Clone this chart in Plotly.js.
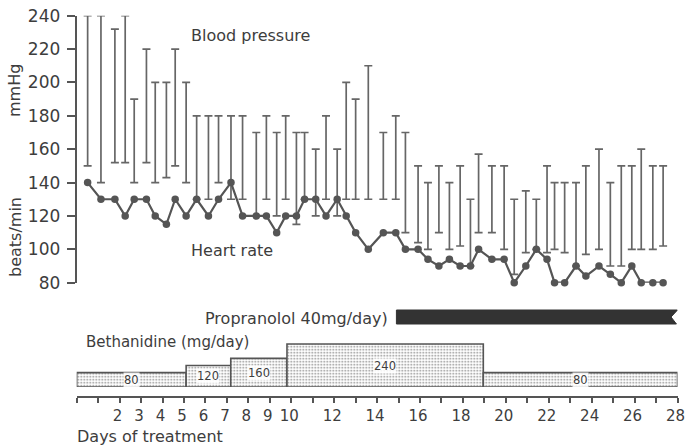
<!DOCTYPE html>
<html>
<head>
<meta charset="utf-8">
<script src="https://cdn.plot.ly/plotly-3.0.1.min.js"></script>
<style>html,body{margin:0;padding:0;background:#fff;}#chart{width:685px;height:445px;}</style>
</head>
<body>
<div id="chart"></div>
<script>
// Measurement times (days of treatment)
const days = [0.51,1.13,1.78,2.26,2.68,3.25,3.66,4.18,4.59,5.10,
  5.59,6.14,6.61,7.19,7.73,8.37,8.84,9.32,9.74,10.24,
  10.62,11.14,11.62,12.14,12.56,13.00,13.59,14.29,14.87,15.32,
  15.91,16.37,16.88,17.37,17.87,18.35,18.73,19.35,19.92,20.39,
  20.93,21.42,21.92,22.27,22.74,23.27,23.73,24.34,24.87,25.38,
  25.87,26.31,26.85,27.33];
// Blood pressure (mmHg)
const systolic = [240,240,232,240,190,220,200,200,220,200,
  180,180,180,180,180,170,180,170,180,170,
  170,160,180,160,200,190,210,170,180,170,
  150,140,150,140,150,130,157,150,150,130,
  135,130,150,140,140,140,150,160,140,150,
  150,160,150,150];
const diastolic = [150,140,152,152,140,152,140,143,150,140,
  130,130,140,130,130,120,130,120,130,115,
  130,120,130,120,130,130,130,130,130,110,
  104,100,110,100,102,90,110,110,100,85,
  98,100,98,100,98,90,97,100,90,90,
  100,100,100,102];
// Heart rate (beats/min)
const heartRate = [140,130,130,120,130,130,120,115,130,120,
  130,120,130,140,120,120,120,110,120,120,
  130,130,120,130,120,110,100,110,110,100,
  100,94,90,94,90,90,100,94,94,80,
  90,100,94,80,80,90,84,90,85,80,
  90,80,80,80];
// Bethanidine dosing periods
const doseStart = [0, 5.1, 7.18, 9.8, 18.95];
const doseEnd = [5.1, 7.18, 9.8, 18.95, 28];
const doseMg = [80, 120, 160, 240, 80];
// Propranolol period
const propStart = [14.9];
const propEnd = [28];
// Axis ticks
const yTicks = [80,100,120,140,160,180,200,220,240];
const xTickVals = Array.from({length: 29}, (_, i) => i);
const xTickLabels = ['', '', '2','3','4','5','6','7','8','9','10','','12','','14','','16','','18','','20','','22','','24','','26','','28'];

const INK = '#555555';
const TXT = '#3d3d3d';
const FONT = '"DejaVu Sans", sans-serif';

const bpTrace = {
  type: 'scatter', mode: 'markers', x: days, y: diastolic,
  xaxis: 'x', yaxis: 'y',
  marker: {color: 'rgba(0,0,0,0)', size: 1},
  error_y: {type: 'data', symmetric: false,
    array: systolic.map((s, i) => s - diastolic[i]),
    arrayminus: diastolic.map(() => 0),
    width: 4, thickness: 1.7, color: '#666666'},
  hoverinfo: 'skip', cliponaxis: false
};
const hrTrace = {
  type: 'scatter', mode: 'lines+markers', x: days, y: heartRate,
  xaxis: 'x', yaxis: 'y',
  line: {color: INK, width: 2.2},
  marker: {color: INK, size: 7.5},
  cliponaxis: false
};
const doseTrace = {
  type: 'bar', x: doseStart.map((s, i) => (s + doseEnd[i]) / 2),
  width: doseStart.map((s, i) => doseEnd[i] - s),
  y: doseMg, xaxis: 'x', yaxis: 'y2',
  marker: {color: '#ffffff', line: {color: INK, width: 1.6},
    pattern: {shape: '.', fgcolor: '#808080', bgcolor: '#ffffff', size: 3, solidity: 0.25}},
  hoverinfo: 'skip'
};

const px = (p) => p / 685;
const py = (p) => 1 - p / 445;

const annotations = [
  {text: 'Blood pressure', xref: 'paper', yref: 'paper', x: px(189), y: py(36), xanchor: 'left', yanchor: 'middle', showarrow: false, font: {size: 16, color: TXT, family: FONT}},
  {text: 'Heart rate', xref: 'paper', yref: 'paper', x: px(189), y: py(250), xanchor: 'left', yanchor: 'middle', showarrow: false, font: {size: 16, color: TXT, family: FONT}},
  {text: 'mmHg', xref: 'paper', yref: 'paper', x: px(14), y: py(91), textangle: -90, xanchor: 'center', yanchor: 'middle', showarrow: false, font: {size: 16, color: TXT, family: FONT}},
  {text: 'beats/min', xref: 'paper', yref: 'paper', x: px(15), y: py(237), textangle: -90, xanchor: 'center', yanchor: 'middle', showarrow: false, font: {size: 16, color: TXT, family: FONT}},
  {text: 'Propranolol 40mg/day)', xref: 'paper', yref: 'paper', x: px(390), y: py(318), xanchor: 'right', yanchor: 'middle', showarrow: false, font: {size: 16, color: TXT, family: FONT}},
  {text: 'Bethanidine (mg/day)', xref: 'paper', yref: 'paper', x: px(84), y: py(342), xanchor: 'left', yanchor: 'middle', showarrow: false, font: {size: 15, color: TXT, family: FONT}},
  {text: 'Days of treatment', xref: 'paper', yref: 'paper', x: px(75), y: py(436), xanchor: 'left', yanchor: 'middle', showarrow: false, font: {size: 16, color: TXT, family: FONT}}
];
doseMg.forEach((d, i) => {
  annotations.push({text: String(d), xref: 'x', yref: 'y2', x: (doseStart[i] + doseEnd[i]) / 2, y: d / 2,
    xanchor: 'center', yanchor: 'middle', showarrow: false, bgcolor: 'rgba(255,255,255,0.85)', borderpad: 0,
    font: {size: 11.5, color: TXT, family: FONT}});
});

const shapes = propStart.map((s, i) => {
  const e = propEnd[i], yb = py(324), yt = py(310), ym = py(317);
  return {type: 'path', xref: 'x', yref: 'paper',
    path: `M ${s},${yb} L ${e - 0.05},${yb} L ${e - 0.3},${ym} L ${e},${yt} L ${s},${yt} Z`,
    fillcolor: '#333333', line: {color: '#333333', width: 1}};
});

const layout = {
  width: 685, height: 445,
  margin: {l: 0, r: 0, t: 0, b: 0},
  paper_bgcolor: '#ffffff', plot_bgcolor: 'rgba(0,0,0,0)',
  showlegend: false,
  font: {family: FONT, color: TXT},
  bargap: 0,
  xaxis: {domain: [px(76.7), px(677.5)], range: [0, 28], anchor: 'free', position: py(397),
    showline: true, linecolor: INK, linewidth: 2, showgrid: false, zeroline: false,
    ticks: 'outside', ticklen: 5, tickwidth: 2, tickcolor: INK,
    tickmode: 'array', tickvals: xTickVals, ticktext: xTickLabels,
    ticklabeloverflow: 'allow', ticklabelshift: -2,
    tickfont: {size: 15, color: TXT, family: FONT}},
  yaxis: {domain: [py(282.7), py(15.7)], range: [80, 240], anchor: 'x',
    showline: true, linecolor: INK, linewidth: 2, showgrid: false, zeroline: false,
    ticks: 'outside', ticklen: 8, tickwidth: 2, tickcolor: INK,
    ticklabelstandoff: 3,
    tickmode: 'array', tickvals: yTicks,
    tickfont: {size: 17, color: TXT, family: FONT}},
  yaxis2: {domain: [py(387), py(387 - 53.75)], range: [0, 300], anchor: 'x', visible: false},
  annotations: annotations,
  shapes: shapes
};

Plotly.newPlot('chart', [doseTrace, bpTrace, hrTrace], layout, {staticPlot: true, displayModeBar: false});
</script>
</body>
</html>
